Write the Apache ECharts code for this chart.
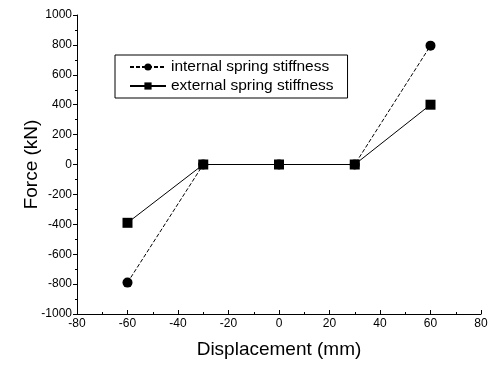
<!DOCTYPE html>
<html>
<head>
<meta charset="utf-8">
<script src="https://cdn.jsdelivr.net/npm/echarts@6/dist/echarts.min.js"></script>
<style>
  html, body { margin: 0; padding: 0; background: #fff; }
  #chart { width: 491px; height: 367px; }
</style>
</head>
<body>
<div id="chart"></div>
<script>
const displacement = [-60, -30, 0, 30, 60]
const internalStiffness = [-790, 0, 0, 0, 795]
const externalStiffness = [-390, 0, 0, 0, 400]
const seriesNames = ['internal spring stiffness', 'external spring stiffness']

const font = 'Liberation Sans, Arial, sans-serif'

const toPairs = (xs, ys) => xs.map((x, i) => [x, ys[i]])

const chart = echarts.init(document.getElementById('chart'))
const option = {
  animation: false,
  backgroundColor: '#fff',
  grid: { left: 77, right: 10, top: 15, bottom: 53 },
  legend: {
    orient: 'vertical',
    left: 115,
    top: 55,
    padding: [4, 14, 4, 14],
    itemGap: 3,
    itemWidth: 36,
    itemHeight: 9,
    borderColor: '#000',
    borderWidth: 1,
    borderRadius: 0,
    textStyle: { fontFamily: font, fontSize: 15.5, color: '#000' },
    data: seriesNames
  },
  xAxis: {
    type: 'value',
    min: -80,
    max: 80,
    interval: 20,
    name: 'Displacement (mm)',
    nameLocation: 'middle',
    nameGap: 26,
    nameMoveOverlap: false,
    nameTextStyle: { fontFamily: font, fontSize: 19, color: '#000' },
    axisLine: { onZero: false, lineStyle: { color: '#000', width: 1 } },
    axisTick: { inside: true, length: 4, lineStyle: { color: '#000' } },
    minorTick: { show: true, splitNumber: 2, length: 2, lineStyle: { color: '#000' } },
    axisLabel: { fontFamily: font, fontSize: 12, color: '#000', margin: 4 },
    splitLine: { show: false }
  },
  yAxis: {
    type: 'value',
    min: -1000,
    max: 1000,
    interval: 200,
    name: 'Force (kN)',
    nameLocation: 'middle',
    nameGap: 36,
    nameMoveOverlap: false,
    nameTextStyle: { fontFamily: font, fontSize: 19, color: '#000' },
    axisLine: { show: true, onZero: false, lineStyle: { color: '#000', width: 1 } },
    axisTick: { show: true, length: 4, lineStyle: { color: '#000' } },
    minorTick: { show: true, splitNumber: 2, length: 2, lineStyle: { color: '#000' } },
    axisLabel: { fontFamily: font, fontSize: 12, color: '#000', margin: 5, formatter: v => String(v) },
    splitLine: { show: false }
  },
  series: [
    {
      name: seriesNames[0],
      type: 'line',
      data: toPairs(displacement, internalStiffness),
      symbol: 'circle',
      symbolSize: 10,
      itemStyle: { color: '#000' },
      lineStyle: { color: '#000', width: 1, type: [4, 2] },
      z: 3
    },
    {
      name: seriesNames[1],
      type: 'line',
      data: toPairs(displacement, externalStiffness),
      symbol: 'rect',
      symbolSize: 10,
      itemStyle: { color: '#000' },
      lineStyle: { color: '#000', width: 1 },
      z: 2
    }
  ]
}
chart.setOption(option)
</script>
</body>
</html>
